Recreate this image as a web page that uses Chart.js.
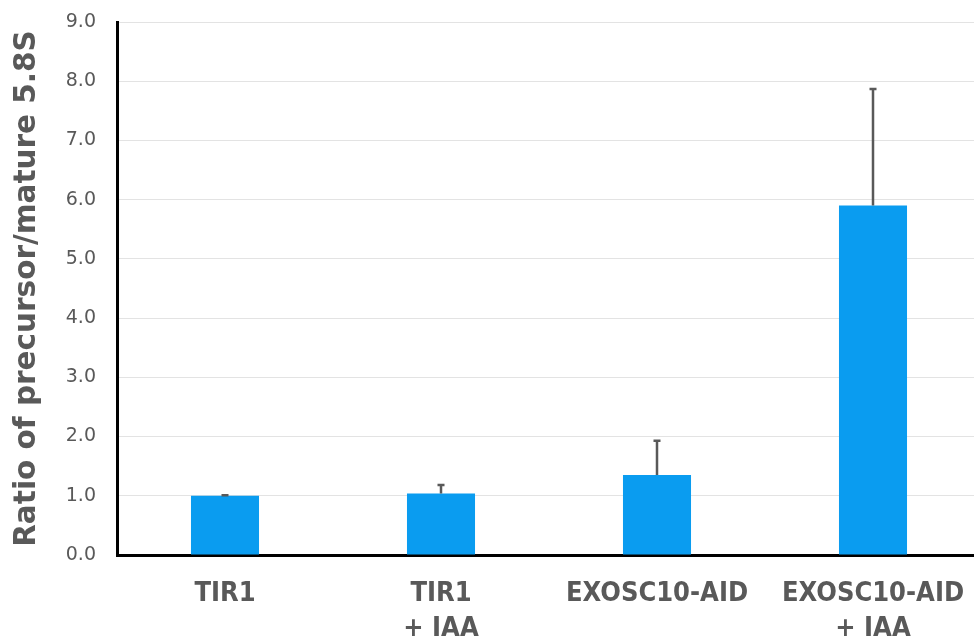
<!DOCTYPE html>
<html>
<head>
<meta charset="utf-8">
<script src="https://cdn.jsdelivr.net/npm/chart.js@4/dist/chart.umd.min.js"></script>
<style>
  html, body { margin: 0; padding: 0; background: #fff; overflow: hidden; }
  #wrap { width: 974px; height: 642px; overflow: hidden; }
</style>
</head>
<body>
<div id="wrap"><canvas id="c" width="981" height="642"></canvas></div>
<script>
// Sample groups (multi-line category labels)
const categories = [["TIR1"], ["TIR1", "+ IAA"], ["EXOSC10-AID"], ["EXOSC10-AID", "+ IAA"]];
// Mean precursor/mature 5.8S ratio per group
const ratioMeans = [1.00, 1.04, 1.35, 5.90];
// Upper error (standard deviation) per group
const ratioErrors = [0.01, 0.14, 0.58, 1.97];
// Y axis range
const yMin = 0, yMax = 9, yStep = 1;

const grey = "#595959";

// Draws upward error whiskers with a small cap on top of each bar
const errorBars = {
  id: "errorBars",
  afterDatasetsDraw(chart) {
    const meta = chart.getDatasetMeta(0);
    const yScale = chart.scales.y;
    const ctx = chart.ctx;
    ctx.save();
    ctx.strokeStyle = grey;
    ctx.lineWidth = 2.5;
    meta.data.forEach((bar, i) => {
      const top = yScale.getPixelForValue(ratioMeans[i] + ratioErrors[i]);
      ctx.beginPath();
      ctx.moveTo(bar.x, bar.y);
      ctx.lineTo(bar.x, top);
      ctx.moveTo(bar.x - 3.5, top);
      ctx.lineTo(bar.x + 3.5, top);
      ctx.stroke();
    });
    ctx.restore();
  }
};

new Chart(document.getElementById("c"), {
  type: "bar",
  data: {
    labels: categories,
    datasets: [{
      data: ratioMeans,
      backgroundColor: "#0a9cf0",
      borderWidth: 0,
      categoryPercentage: 1,
      barPercentage: 0.315
    }]
  },
  options: {
    responsive: false,
    animation: false,
    layout: { padding: { top: 22, right: 0, left: 0, bottom: 0 } },
    plugins: {
      legend: { display: false },
      tooltip: { enabled: false }
    },
    scales: {
      x: {
        grid: { display: false, drawTicks: false },
        border: { color: "#000", width: 3 },
        ticks: {
          color: grey,
          font: { family: "'DejaVu Sans Condensed', 'DejaVu Sans', sans-serif", size: 27, weight: "bold", lineHeight: 1.3 },
          padding: 21,
          maxRotation: 0
        },
        afterFit(scale) {
          scale.height = 87;
          scale.paddingLeft = 0;
          scale.paddingRight = 0;
        }
      },
      y: {
        min: yMin,
        max: yMax,
        ticks: {
          stepSize: yStep,
          color: grey,
          font: { family: "'DejaVu Sans', sans-serif", size: 19 },
          padding: 21,
          callback: v => v.toFixed(1)
        },
        grid: { color: "#e3e3e3", lineWidth: 1, drawTicks: false },
        border: { color: "#000", width: 3 },
        title: {
          display: true,
          text: "Ratio of precursor/mature 5.8S",
          color: grey,
          font: { family: "'DejaVu Sans', sans-serif", size: 29.5, weight: "bold" },
          padding: { top: 10, bottom: 0 }
        },
        afterFit(scale) {
          scale.width = 117;
          scale.paddingTop = 0;
          scale.paddingBottom = 0;
        }
      }
    }
  },
  plugins: [errorBars]
});
</script>
</body>
</html>
